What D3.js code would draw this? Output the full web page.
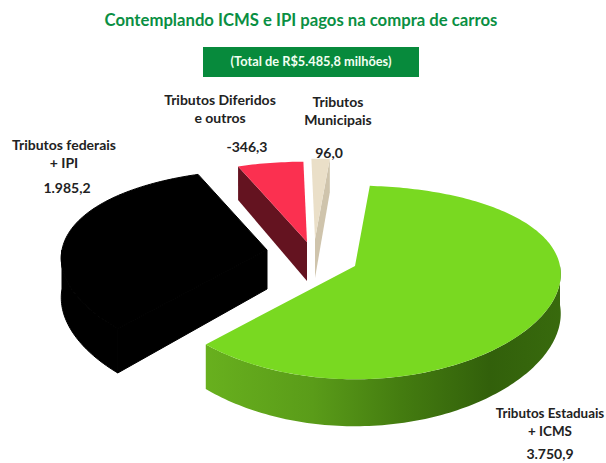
<!DOCTYPE html>
<meta charset="utf-8">
<body>
<script src="https://cdn.jsdelivr.net/npm/d3@7"></script>
<style>
    html, body {
        margin: 0;
        background: #fff;
    }
    text {
        font-family: Lato, "Open Sans", sans-serif;
        font-weight: 700;
    }
</style>
<script>
// values as printed on the chart (slice size uses the absolute value)
var categories = ["Tributos Estaduais + ICMS", "Tributos federais + IPI", "Tributos Diferidos e outros", "Tributos Municipais"];
var values = [3750.9, 1985.2, -346.3, 96.0];
var valueLabels = ["3.750,9", "1.985,2", "-346,3", "96,0"];
var labelLines = [["Tributos Estaduais", "+ ICMS"], ["Tributos federais", "+ IPI"], ["Tributos Diferidos", "e outros"], ["Tributos", "Municipais"]];

// layout, one entry per slice
var apexes = [[355, 266], [267, 250], [307, 242], [315, 239]];
var topColors = ["#79d921", "#000", "#fb3050", "#eadfc8"];
var cutColors = [null, "#000", "#641320", "#cfc4ac"];
var cutEdge = [null, "start", "start", "end"];
var labelPos = [[550, 418], [64, 150], [220, 105], [338, 107]];
var valuePos = [[550, 459], [67, 193], [247, 152], [329, 158]];

var width = 606, height = 463,
    radiusX = 205, radiusY = 94, depth = 39, persp = 0.17,
    rotation = 4.5 * Math.PI / 180;

var svg = d3.select("body").append("svg")
    .attr("width", width)
    .attr("height", height)
    .style("display", "block");

var defs = svg.append("defs");
var sideGrad = defs.append("linearGradient").attr("id", "greenSide");
sideGrad.selectAll("stop")
    .data([[0, "#68b01e"], [0.3, "#5a9c19"], [0.55, "#447c10"], [0.8, "#32600b"], [1, "#386a0d"]])
    .enter().append("stop")
    .attr("offset", function(d) { return d[0]; })
    .attr("stop-color", function(d) { return d[1]; });

var x = d3.scaleLinear().domain([-1, 1]).range([-radiusX, radiusX]),
    y = d3.scaleLinear().domain([-1, 1]).range([-radiusY, radiusY]);

var pie = d3.pie()
    .sort(null)
    .value(function(d) { return Math.abs(d); })
    .startAngle(rotation)
    .endAngle(rotation + Math.PI * 2);

// rim point of a slice, angle clockwise from the back of the disc
function rim(i, a, drop) {
    var px = Math.sin(a), py = -Math.cos(a),
        s = 1 / (1 - persp * py),
        sx = 1 / (1 - persp / 2 * py);
    return [apexes[i][0] + x(px) * sx, apexes[i][1] + y(py) * s + (drop ? depth * s : 0)];
}

function arcPoints(i, a0, a1, drop) {
    var n = Math.max(2, Math.ceil((a1 - a0) / 0.02));
    return d3.range(n + 1).map(function(k) { return rim(i, a0 + (a1 - a0) * k / n, drop); });
}

var line = d3.line();
var slices = pie(values);

// outer wall, only the part that faces the viewer
slices.forEach(function(d, i) {
    var a0 = Math.max(d.startAngle, Math.PI / 2),
        a1 = Math.min(d.endAngle, Math.PI * 1.5);
    if (a0 >= a1) return;
    var pts = arcPoints(i, a0, a1, false).concat(arcPoints(i, a0, a1, true).reverse());
    svg.append("path")
        .attr("d", line(pts) + "Z")
        .attr("fill", i === 0 ? "url(#greenSide)" : topColors[i])
        .attr("stroke", i === 1 ? "#000" : "none");
});

// cut faces
slices.forEach(function(d, i) {
    if (!cutEdge[i]) return;
    var a = cutEdge[i] === "start" ? d.startAngle : d.endAngle,
        p = rim(i, a, false), q = rim(i, a, true);
    svg.append("path")
        .attr("d", line([apexes[i], p, q, [apexes[i][0], apexes[i][1] + depth]]) + "Z")
        .attr("fill", cutColors[i])
        .attr("stroke", i === 1 ? "#000" : "none");
});

// top faces
slices.forEach(function(d, i) {
    svg.append("path")
        .attr("d", line([apexes[i]].concat(arcPoints(i, d.startAngle, d.endAngle, false))) + "Z")
        .attr("fill", topColors[i])
        .attr("stroke", i === 1 ? "#000" : "none");
});

// title and total box
svg.append("text")
    .attr("x", 301).attr("y", 26)
    .attr("text-anchor", "middle")
    .attr("font-size", 16.7)
    .attr("fill", "#0a8f43")
    .text("Contemplando ICMS e IPI pagos na compra de carros");

svg.append("rect")
    .attr("x", 203).attr("y", 47)
    .attr("width", 216).attr("height", 30)
    .attr("fill", "#078a3c");

svg.append("text")
    .attr("x", 311).attr("y", 66)
    .attr("text-anchor", "middle")
    .attr("font-size", 12.8)
    .attr("fill", "#f2fff2")
    .text("(Total de R$5.485,8 milhões)");

// slice labels
labelLines.forEach(function(lines, i) {
    var t = svg.append("text")
        .attr("text-anchor", "middle")
        .attr("font-size", i === 0 ? 13.4 : 14)
        .attr("fill", "#222");
    lines.forEach(function(s, k) {
        t.append("tspan")
            .attr("x", labelPos[i][0])
            .attr("y", labelPos[i][1] + k * 17.5)
            .text(s);
    });
    svg.append("text")
        .attr("x", valuePos[i][0])
        .attr("y", valuePos[i][1])
        .attr("text-anchor", "middle")
        .attr("font-size", 14)
        .attr("fill", "#222")
        .text(valueLabels[i]);
});
</script>
